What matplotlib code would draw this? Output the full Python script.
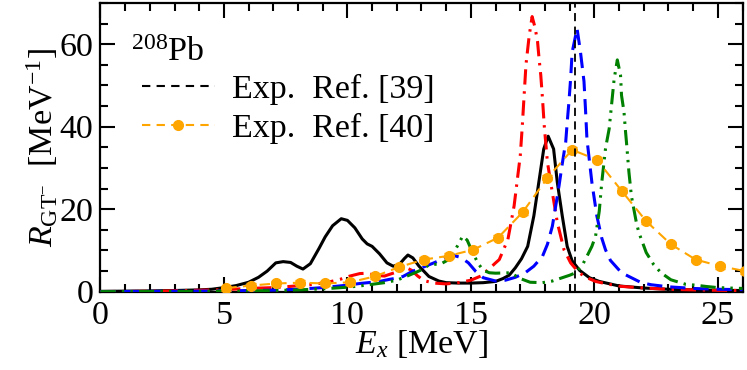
import matplotlib
matplotlib.use("Agg")
import matplotlib.pyplot as plt
from matplotlib.lines import Line2D
from matplotlib.ticker import MultipleLocator

plt.rcParams['font.family'] = ['Liberation Serif', 'DejaVu Serif']
plt.rcParams['mathtext.fontset'] = 'custom'
plt.rcParams['mathtext.rm'] = 'Liberation Serif'
plt.rcParams['mathtext.it'] = 'Liberation Serif:italic'

# black solid curve
x_black = [0, 1, 2, 3, 4, 4.5, 5, 5.5, 6, 6.4, 6.75, 7.1, 7.4, 7.7, 7.95, 8.2, 8.5, 8.85,
           9.1, 9.4, 9.75, 10.0, 10.3, 10.6, 10.8, 11.0, 11.3, 11.6, 11.85, 12.1, 12.3, 12.45,
           12.65, 12.9, 13.3, 13.7, 14.0, 14.5, 15.0, 15.5, 16.0, 16.3, 16.55, 16.8, 17.05,
           17.3, 17.55, 17.75, 17.95, 18.13, 18.35, 18.5, 18.7, 18.9, 19.1, 19.4, 19.8, 20.2,
           21.0, 22.0, 23.0, 24.0, 25.0, 26.0]
y_black = [0.1, 0.15, 0.2, 0.3, 0.45, 0.6, 1.0, 1.5, 2.3, 3.5, 5.0, 7.0, 7.3, 7.1, 6.2, 5.5,
           6.8, 10.5, 13.3, 16.0, 17.7, 17.3, 15.5, 12.8, 11.6, 11.0, 9.2, 7.0, 6.2, 6.6, 8.0,
           8.9, 8.2, 6.2, 3.7, 2.6, 2.2, 2.1, 2.1, 2.2, 2.5, 3.2, 4.0, 5.8, 8.0, 11.0, 18.4,
           26.5, 34.6, 37.7, 34.6, 26.5, 18.4, 11.0, 7.5, 5.2, 3.4, 2.5, 1.4, 0.9, 0.6, 0.45,
           0.35, 0.3]

# red dash-dot curve
x_red = [0, 2, 3.5, 5, 6, 7, 7.7, 8.5, 9.2, 9.7, 10.1, 10.5, 10.8, 11.1, 11.5, 11.9, 12.2,
         12.4, 12.6, 12.85, 13.1, 13.5, 14.0, 14.5, 15.0, 15.4, 15.75, 16.0, 16.15, 16.5,
         16.75, 17.0, 17.08, 17.16, 17.23, 17.36, 17.48, 17.6, 17.7, 17.76, 17.83, 17.9,
         17.97, 18.1, 18.3, 18.5, 18.77, 19.04, 19.38, 19.7, 20.05, 20.5, 21.1, 22, 23, 24,
         25, 26]
y_red = [0.05, 0.1, 0.3, 0.5, 0.8, 1.0, 1.3, 1.7, 2.3, 3.0, 3.8, 4.4, 4.5, 4.0, 3.8, 4.6,
         5.4, 5.8, 5.2, 3.8, 2.7, 2.1, 1.9, 2.2, 2.8, 3.8, 5.6, 7.0, 7.8, 12.7, 20.8, 33.0,
         40.0, 48.0, 55.0, 62.0, 66.7, 64.0, 60.6, 56.6, 52.5, 46.8, 40.3, 31.4, 24.0, 16.8,
         10.2, 7.0, 4.6, 3.4, 2.5, 1.9, 1.3, 0.9, 0.6, 0.45, 0.35, 0.3]

# blue dashed curve
x_blue = [0, 2, 4, 5, 6, 7, 8, 9, 10, 10.5, 11, 11.3, 11.7, 12.0, 12.25, 12.65, 13.0, 13.5,
          14.0, 14.3, 14.6, 14.9, 15.2, 15.5, 16.0, 16.4, 16.8, 17.2, 17.55, 17.9, 18.1,
          18.3, 18.57, 18.7, 18.84, 18.9, 18.97, 19.04, 19.1, 19.3, 19.44, 19.58, 19.64,
          19.7, 19.9, 20.1, 20.3, 20.45, 20.65, 20.86, 21.1, 21.4, 21.9, 22.3, 23.0, 24.0,
          25.0, 26.0]
y_blue = [0.05, 0.08, 0.15, 0.2, 0.3, 0.4, 0.6, 1.0, 1.6, 2.0, 2.3, 2.5, 3.0, 3.3, 3.7, 5.0,
          5.8, 7.0, 8.3, 8.8, 8.3, 7.0, 4.9, 3.4, 2.6, 2.8, 3.5, 4.6, 6.2, 8.6, 11.5, 15.9,
          25.7, 31.0, 36.3, 41.0, 46.0, 51.7, 58.0, 63.8, 58.0, 51.0, 44.4, 37.0, 26.5, 18.4,
          13.0, 10.2, 7.6, 6.2, 4.6, 3.7, 2.2, 1.7, 1.2, 0.8, 0.6, 0.5]

# green dash-dot-dot curve
x_green = [0, 2, 4, 5, 6, 7, 8, 9, 10, 10.5, 11, 11.5, 12.0, 12.5, 13.0, 13.3, 13.8, 14.1,
           14.4, 14.67, 14.85, 15.07, 15.3, 15.5, 15.75, 16.0, 16.6, 17.0, 17.4, 17.9, 18.3,
           18.7, 19.0, 19.24, 19.5, 19.7, 19.9, 20.05, 20.2, 20.3, 20.45, 20.5, 20.6, 20.7,
           20.8, 20.93, 21.06, 21.1, 21.2, 21.26, 21.3, 21.4, 21.5, 21.7, 21.8, 22.1, 22.4,
           22.7, 23.1, 23.7, 24.1, 24.5, 25.0, 26.0]
y_green = [0.03, 0.05, 0.1, 0.15, 0.2, 0.3, 0.45, 0.7, 1.1, 1.4, 1.8, 2.2, 2.8, 4.0, 5.3,
           6.5, 6.8, 7.8, 10.5, 13.5, 12.5, 9.5, 6.8, 5.2, 4.6, 4.5, 4.6, 3.2, 2.3, 2.2, 2.6,
           3.4, 4.0, 4.6, 6.3, 8.6, 11.0, 13.5, 19.6, 26.5, 34.6, 36.3, 39.5, 45.5, 51.5,
           56.2, 52.5, 47.6, 43.6, 39.0, 36.3, 29.0, 23.2, 16.8, 14.4, 9.5, 6.6, 4.6, 2.9,
           1.8, 1.6, 1.3, 1.0, 0.8]

# experiment, Ref. [40]
x_exp = [5.1, 6.1, 7.1, 8.1, 9.1, 10.1, 11.1, 12.1, 13.1, 14.1, 15.1, 16.1, 17.1, 18.1,
         19.1, 20.1, 21.1, 22.1, 23.1, 24.1, 25.1, 26.1]
y_exp = [0.9, 1.5, 2.0, 2.2, 2.0, 2.3, 3.7, 6.0, 7.8, 8.7, 10.2, 13.1, 19.3, 27.6, 34.4,
         32.0, 24.5, 17.1, 11.5, 7.8, 6.2, 5.0]
err_exp = [0.6] * len(x_exp)

# experiment, Ref. [39]
e_ref39 = 19.2

fs = 24.5

fig = plt.figure(figsize=(7.47, 3.70), dpi=100)
ax = fig.add_axes([0.1345, 0.2115, 0.8595, 0.7805])

ax.plot(x_black, y_black, color='black', lw=2.2, zorder=3)
ax.plot(x_red, y_red, color='red', lw=2.2, ls=(0, (5, 2.2, 0.8, 2.2)), zorder=4)
ax.plot(x_blue, y_blue, color='blue', lw=2.2, ls=(0, (5, 2.6)), zorder=4)
ax.plot(x_green, y_green, color='green', lw=2.2, ls=(0, (5, 2, 0.8, 2, 0.8, 2)), zorder=4)
ax.errorbar(x_exp, y_exp, yerr=err_exp, color='orange', lw=1.5, ls=(0, (5, 3)),
            marker='o', ms=7, capsize=3.5, elinewidth=1, capthick=1, zorder=5)
ax.axvline(e_ref39, color='black', lw=1.3, ls=(0, (4.5, 3)), zorder=6)

handles = [Line2D([], [], color='black', lw=1.5, ls=(0, (4, 3))),
           Line2D([], [], color='orange', lw=1.5, ls=(0, (4, 3)), marker='o', ms=7,
                  markevery=[0, 1])]
ax.legend(handles, ['Exp.  Ref. [39]', 'Exp.  Ref. [40]'], loc='upper left',
          bbox_to_anchor=(0.064, 0.755), frameon=False, fontsize=fs, handlelength=2.15,
          handletextpad=0.5, labelspacing=0.25, borderpad=0, borderaxespad=0)

ax.text(0.047, 0.80, r'$^{208}$Pb', transform=ax.transAxes, fontsize=fs, va='baseline')

ax.set_xlim(0, 26)
ax.set_ylim(0, 70)
ax.xaxis.set_major_locator(MultipleLocator(5))
ax.xaxis.set_minor_locator(MultipleLocator(1))
ax.yaxis.set_major_locator(MultipleLocator(20))
ax.yaxis.set_minor_locator(MultipleLocator(5))
ax.tick_params(which='both', direction='in', top=True, right=True, width=1.5,
               labelsize=fs, pad=5)
ax.tick_params(axis='x', pad=6)
ax.tick_params(which='major', length=11)
ax.tick_params(which='minor', length=5.5)
for s in ax.spines.values():
    s.set_linewidth(1.6)

ax.set_xlabel(r'$E_x$ [MeV]', fontsize=fs, labelpad=-2)
ax.set_ylabel(r'$R_{\mathrm{GT}^{-}}$  [MeV$^{-1}$]', fontsize=fs, labelpad=0)

fig.savefig('out.png', dpi=100)
